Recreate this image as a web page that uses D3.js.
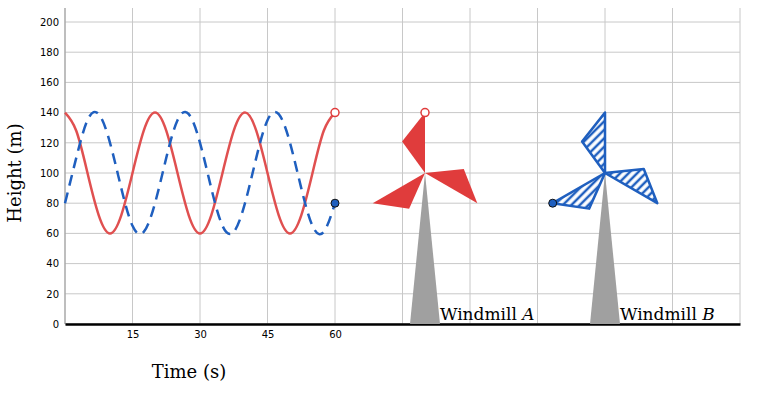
<!DOCTYPE html>
<html><head><meta charset="utf-8">
<script src="https://cdn.jsdelivr.net/npm/d3@7"></script>
<style>body{margin:0;background:#fff}</style>
</head><body><div id="canvas"></div>
<script>
"use strict"

// values, every 2.5 s
let timesRed = d3.range(0, 60.01, 2.5);
let heightsRed = [140,128,100,72,60,72,100,128,140,128,100,72,60,72,100,128,140,128,100,72,60,72,100,128,140];
let heightsBlue = [80,110,135,139,120,90,65,61,80,110,135,139,120,90,65,61,80,110,135,139,120,90,65,61,80];
let xTicks = [15, 30, 45, 60];
let yTicks = [0,20,40,60,80,100,120,140,160,180,200];
let windmills = [{name: "A", t: 80, color: "#e03c3c", hatch: false},
                 {name: "B", t: 120, color: "#1f5fbf", hatch: true}];

let drawing = d3.select("#canvas").append("svg")
    .attr("width", 763).attr("height", 404);

let x = d3.scaleLinear().domain([0, 150]).range([65, 740]);
let y = d3.scaleLinear().domain([0, 200]).range([324, 22]);

let defs = drawing.append("defs");
let pat = defs.append("pattern").attr("id", "hatch")
    .attr("patternUnits", "userSpaceOnUse").attr("width", 6).attr("height", 6)
    .attr("patternTransform", "rotate(-45)");
pat.append("rect").attr("width", 6).attr("height", 6).attr("fill", "white");
pat.append("line").attr("x1", 0).attr("x2", 6).attr("y1", 3).attr("y2", 3)
    .attr("stroke", "#1f5fbf").attr("stroke-width", 2.5);

// grid
drawing.append("g").selectAll("line").data(d3.range(0, 151, 15)).join("line")
    .attr("x1", d => x(d)).attr("x2", d => x(d)).attr("y1", y(0)).attr("y2", 8)
    .attr("stroke", "#c8c8c8");
drawing.append("g").selectAll("line").data(yTicks).join("line")
    .attr("x1", x(0)).attr("x2", x(150)).attr("y1", d => y(d)).attr("y2", d => y(d))
    .attr("stroke", "#c8c8c8");

// axes
drawing.append("g").attr("transform", "translate(65,0)")
    .call(d3.axisLeft(y).tickValues(yTicks).tickSize(0).tickPadding(6))
    .call(g => g.select(".domain").attr("stroke", "#999").attr("d", "M0,324V8"))
    .call(g => g.selectAll("text").attr("font-family", "DejaVu Sans").attr("font-size", 10));
drawing.append("g").attr("transform", "translate(0,324)")
    .call(d3.axisBottom(x).tickValues(xTicks).tickSize(0).tickPadding(7))
    .call(g => g.select(".domain").attr("stroke", "black").attr("stroke-width", 2.5))
    .call(g => g.selectAll("text").attr("font-family", "DejaVu Sans").attr("font-size", 10));

drawing.append("text").attr("x", 189).attr("y", 378).attr("text-anchor", "middle")
    .attr("font-family", "DejaVu Serif").attr("font-size", 18).text("Time (s)");
drawing.append("text").attr("transform", "translate(21,173) rotate(-90)")
    .attr("text-anchor", "middle").attr("font-family", "DejaVu Serif").attr("font-size", 18)
    .text("Height (m)");

// curves
let line = d3.line().curve(d3.curveNatural);
drawing.append("path")
    .attr("d", line(timesRed.map((t, i) => [x(t), y(heightsRed[i])])))
    .attr("fill", "none").attr("stroke", "#e05050").attr("stroke-width", 2.5);
drawing.append("path")
    .attr("d", line(timesRed.map((t, i) => [x(t), y(heightsBlue[i])])))
    .attr("fill", "none").attr("stroke", "#1f5fbf").attr("stroke-width", 2.5)
    .attr("stroke-dasharray", "11,7");

// windmills
windmills.forEach(w => {
    let hx = x(w.t), hy = y(100);
    let tipR = y(100) - y(140);
    drawing.append("polygon")
        .attr("points", [[hx, hy], [hx - 15, y(0)], [hx + 15, y(0)]].join(" "))
        .attr("fill", "#a0a0a0");
    [90, 210, 330].forEach(a => {
        let r1 = a * Math.PI / 180, r2 = (a + 36) * Math.PI / 180;
        let pts = [[hx, hy],
                   [hx + tipR * Math.cos(r1), hy - tipR * Math.sin(r1)],
                   [hx + 39 * Math.cos(r2), hy - 39 * Math.sin(r2)]];
        drawing.append("polygon").attr("points", pts.join(" "))
            .attr("fill", w.hatch ? "url(#hatch)" : w.color)
            .attr("stroke", w.color).attr("stroke-width", w.hatch ? 2.5 : 0)
            .attr("stroke-linejoin", "round");
    });
    drawing.append("text").attr("x", hx + 15).attr("y", 320)
        .attr("font-family", "DejaVu Serif").attr("font-size", 17)
        .html("Windmill <tspan font-style='italic'>" + w.name + "</tspan>");
});

// markers
let last = timesRed.length - 1;
drawing.append("circle").attr("cx", x(60)).attr("cy", y(heightsRed[last])).attr("r", 4)
    .attr("fill", "white").attr("stroke", "#e03c3c").attr("stroke-width", 1.5);
drawing.append("circle").attr("cx", x(80)).attr("cy", y(140)).attr("r", 4)
    .attr("fill", "white").attr("stroke", "#e03c3c").attr("stroke-width", 1.5);
drawing.append("circle").attr("cx", x(60)).attr("cy", y(heightsBlue[last])).attr("r", 4)
    .attr("fill", "#1f5fbf").attr("stroke", "#111");
let rB = y(100) - y(140);
drawing.append("circle").attr("cx", x(120) + rB * Math.cos(210 * Math.PI / 180))
    .attr("cy", y(100) - rB * Math.sin(210 * Math.PI / 180)).attr("r", 4)
    .attr("fill", "#1f5fbf").attr("stroke", "#111");
</script>
</body></html>
